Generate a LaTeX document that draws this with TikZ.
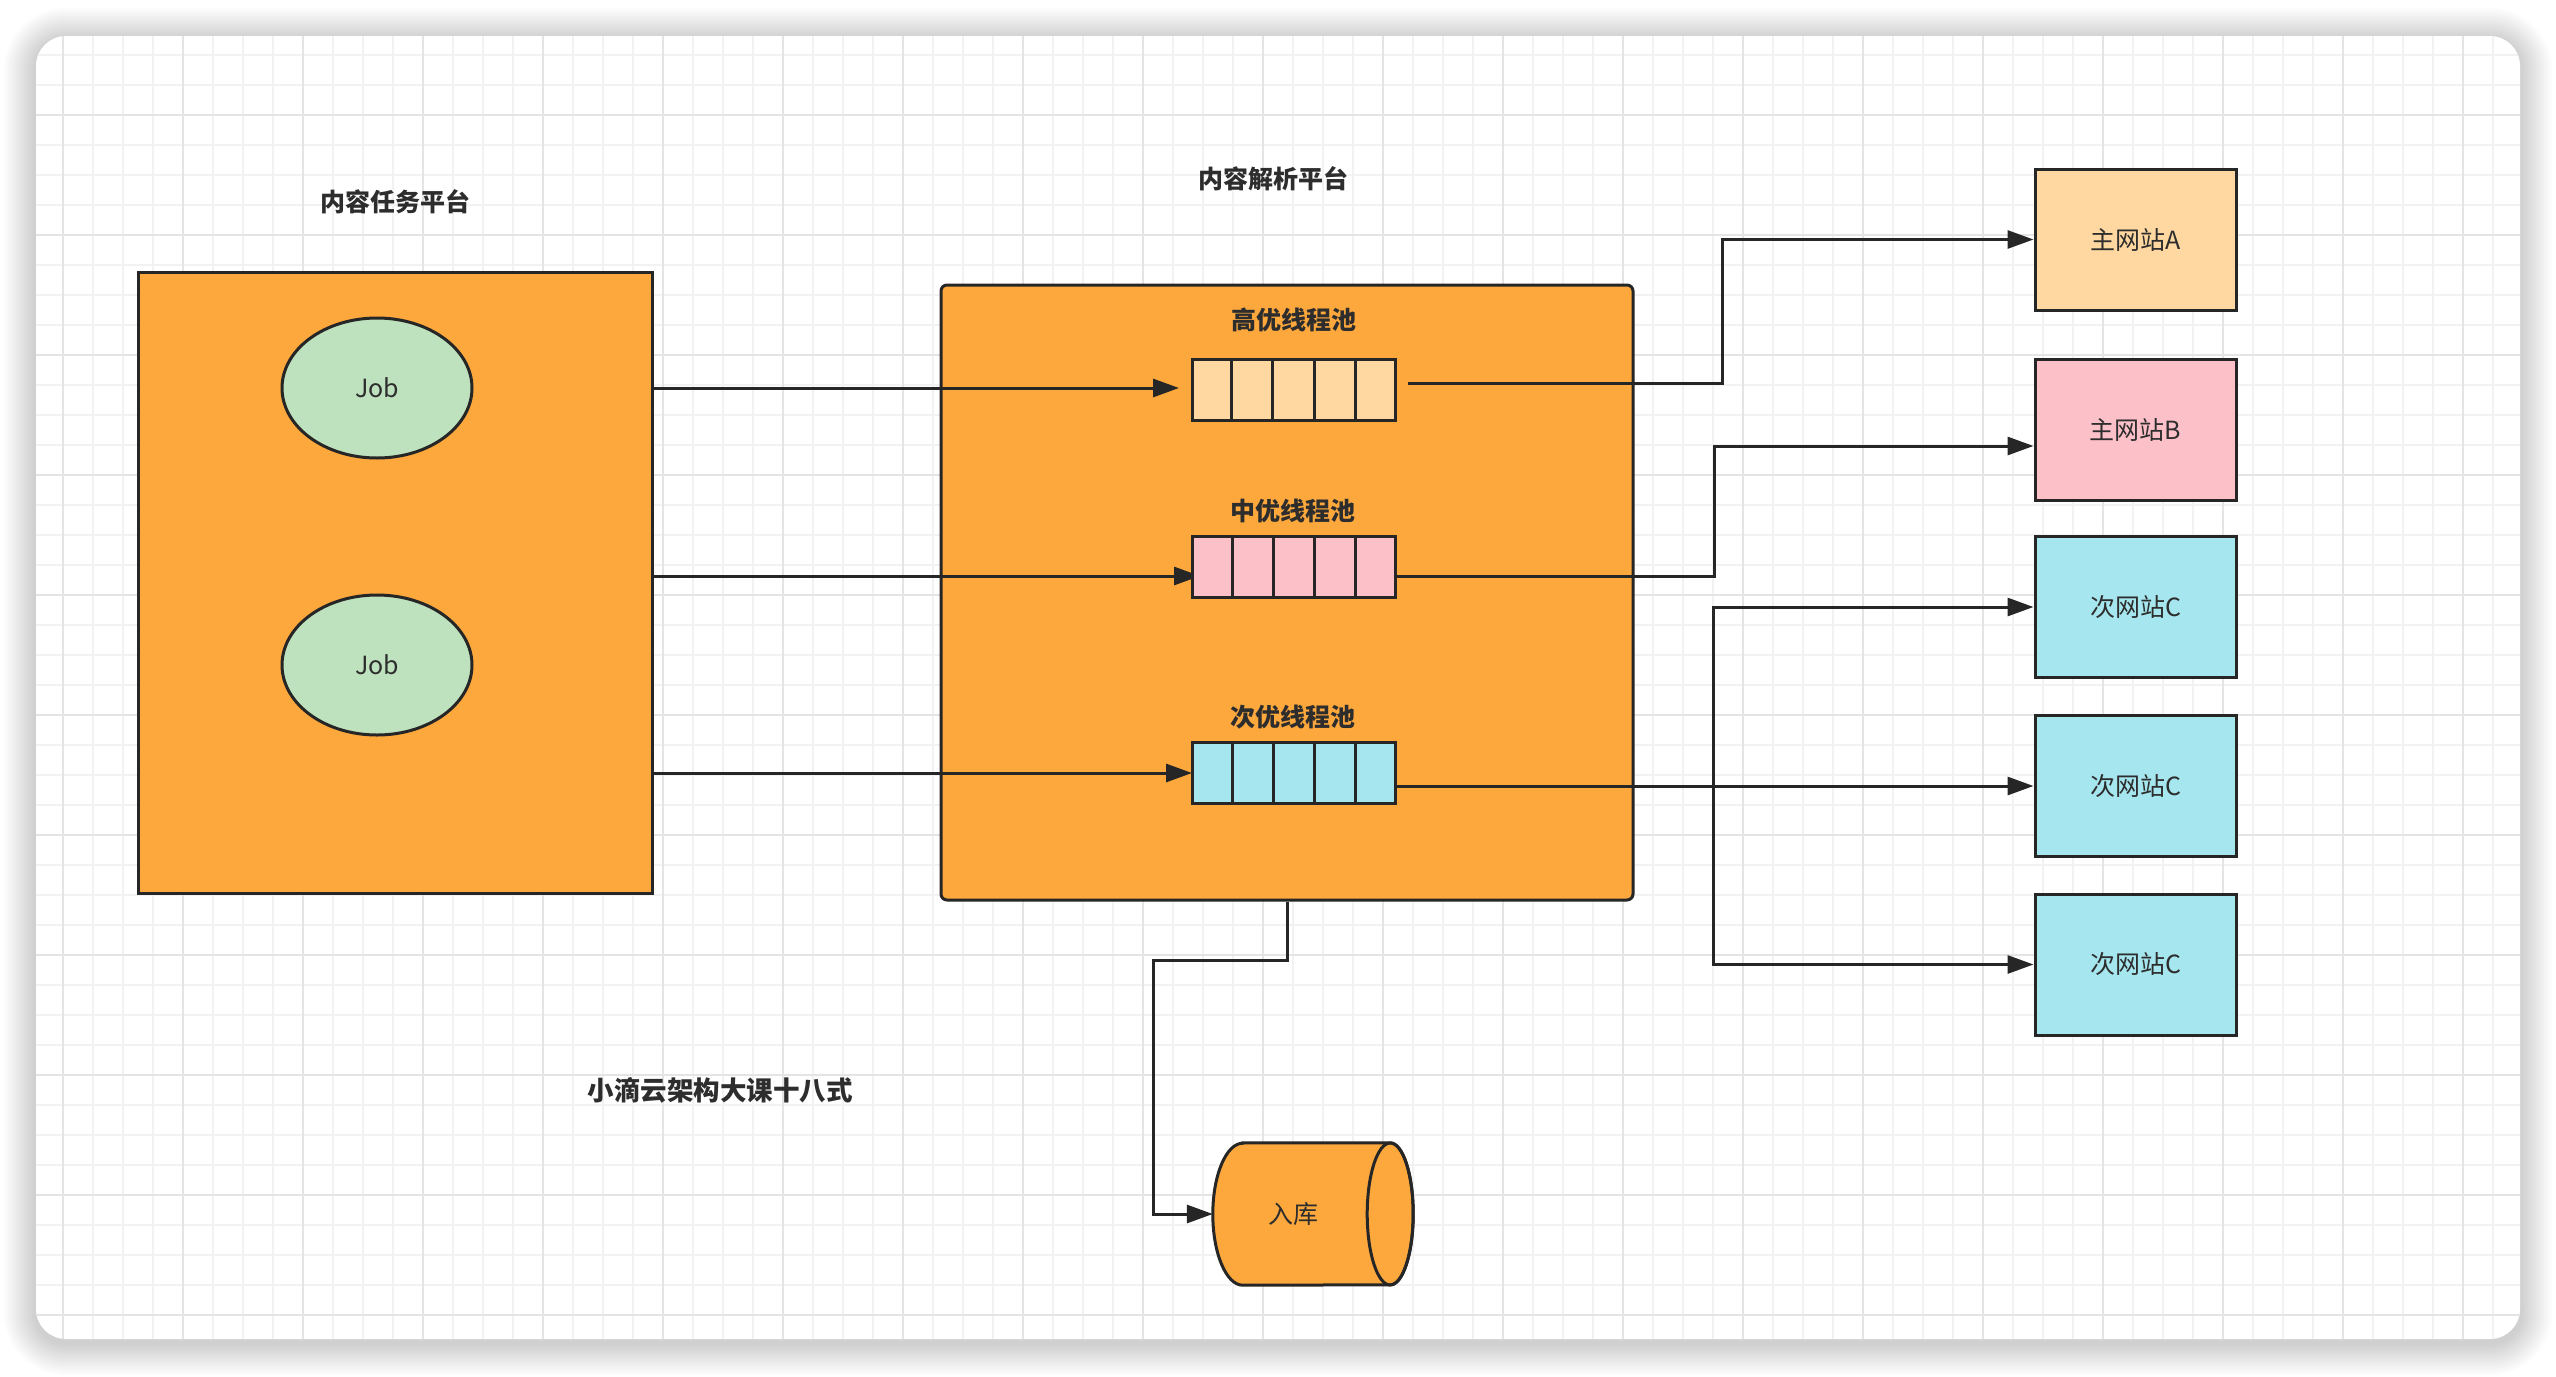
\documentclass[tikz,border=0pt]{standalone}
\usepackage{fontspec}
\setmainfont{Noto Sans CJK SC}
\usetikzlibrary{arrows.meta,calc,shapes.geometric}
\definecolor{orng}{RGB}{253,168,61}
\definecolor{jobgreen}{RGB}{190,225,190}
\definecolor{peach}{RGB}{254,216,160}
\definecolor{pinkc}{RGB}{252,192,200}
\definecolor{cyanc}{RGB}{166,230,238}
\definecolor{strokec}{RGB}{38,38,38}
\definecolor{textc}{RGB}{45,45,45}
\definecolor{gridmin}{RGB}{242,242,242}
\definecolor{gridmaj}{RGB}{228,228,228}
\pgfdeclarelayer{bgl}
\pgfdeclarelayer{edges}
\pgfsetlayers{bgl,edges,main}
\newcommand\myfs[1]{\fontsize{#1}{#1}\selectfont}
\begin{document}
\begin{tikzpicture}[x=1pt,y=-1pt,
  box/.style={draw=strokec, line width=3pt, inner sep=0pt, text=textc, font=\myfs{25pt}},
  queue/.style={box, minimum width=203pt, minimum height=61pt},
  site/.style={box, minimum width=201pt, minimum height=141pt},
  job/.style={box, ellipse, fill=jobgreen, minimum width=190pt, minimum height=140pt},
  title/.style={text=textc, font=\myfs{25pt}\bfseries, inner sep=0pt},
  conn/.style={draw=strokec, line width=3pt, -{Triangle[length=26pt,width=18pt]}},
  plainline/.style={draw=strokec, line width=3pt},
  gmin/.style={draw=gridmin, line width=1.6pt},
  gmaj/.style={draw=gridmaj, line width=2pt}
]
\useasboundingbox (0,0) rectangle (2556,1376);

\begin{pgfonlayer}{bgl}
  % card shadow
  \foreach \i in {1,...,16}{
    \pgfmathsetmacro\dd{2*\i}
    \pgfmathsetmacro\rr{30+2*\i}
    \fill[black, opacity=0.011, rounded corners=\rr pt, yshift=-4pt]
      (36-\dd,36-\dd) rectangle (2520+\dd,1339+\dd);
  }
  \fill[white, rounded corners=30pt] (36,36) rectangle (2520,1339);
  \begin{scope}
    \clip[rounded corners=30pt] (36,36) rectangle (2520,1339);
    \foreach \x in {63,93,...,2520} \draw[gmin] (\x,36) -- (\x,1339);
    \foreach \y in {55,85,...,1339} \draw[gmin] (36,\y) -- (2520,\y);
    \foreach \x in {63,183,...,2520} \draw[gmaj] (\x,36) -- (\x,1339);
    \foreach \y in {115,235,...,1339} \draw[gmaj] (36,\y) -- (2520,\y);
  \end{scope}
  \node[box, fill=orng, minimum width=514pt, minimum height=621pt] (lbox) at (395,582.5) {};
  \node[box, fill=orng, rounded corners=6pt, minimum width=692pt, minimum height=615pt] (mbox) at (1287,592.5) {};
\end{pgfonlayer}

% titles
\node[title] (tl) at (395,202) {内容任务平台};
\node[title] (tm) at (1273,179) {内容解析平台};
\node[title] (th1) at (1294,320) {高优线程池};
\node[title] (th2) at (1293,511) {中优线程池};
\node[title] (th3) at (1293,717) {次优线程池};
\node[title, font=\myfs{26.5pt}\bfseries] (tb) at (720,1090) {小滴云架构大课十八式};

% jobs
\node[job] (job1) at (377,388) {Job};
\node[job] (job2) at (377,665) {Job};

% queues
\node[queue, fill=peach] (q1) at (1293.5,389.5) {};
\node[queue, fill=pinkc] (q2) at (1294,567) {};
\node[queue, fill=cyanc] (q3) at (1294,773) {};
\foreach \q in {q1,q2,q3}{
  \foreach \k in {1,2,3,4}{
    \draw[plainline] ($(\q.north west)!\k/5!(\q.north east)$) -- ($(\q.south west)!\k/5!(\q.south east)$);
  }
}

% sites
\node[site, fill=peach] (siteA) at (2135.5,239.5) {主网站A};
\node[site, fill=pinkc] (siteB) at (2135.5,429.5) {主网站B};
\node[site, fill=cyanc] (siteC1) at (2135.5,607) {次网站C};
\node[site, fill=cyanc] (siteC2) at (2135.5,786) {次网站C};
\node[site, fill=cyanc] (siteC3) at (2135.5,964.5) {次网站C};

% database cylinder
\node[minimum width=200pt, minimum height=142pt, inner sep=0pt] (db) at (1313,1214) {};
\filldraw[fill=orng, draw=strokec, line width=3pt]
  ([xshift=30pt]db.north west) -- ([xshift=-23pt]db.north east)
  arc[start angle=90, end angle=-90, x radius=23pt, y radius=71pt]
  -- ([xshift=30pt]db.south west)
  arc[start angle=270, end angle=90, x radius=30pt, y radius=71pt] -- cycle;
\draw[draw=strokec, line width=3pt] ([xshift=-23pt]db.east) ellipse [x radius=23pt, y radius=71pt];
\node[text=textc, font=\myfs{25pt}, inner sep=0pt] (dbl) at (1293,1214) {入库};

% connectors
\coordinate (q1in) at (1179,388);
\coordinate (q2in) at (1200,576);
\coordinate (q3in) at (1192,773);
\coordinate (q1out) at (1408,383);
\coordinate (br) at (1713,786);
\begin{pgfonlayer}{edges}
  \draw[conn] (lbox.east |- q1in) -- (q1in);
  \draw[conn] (lbox.east |- q2in) -- (q2in);
  \draw[conn] (lbox.east |- q3in) -- (q3in);
  \draw[conn] (q1out) -- ++(314,0) |- (siteA.west);
  \draw[conn] (q2.east |- q2in) -- ++(317,0) |- ([yshift=-16.5pt]siteB.west);
  \draw[conn] (q3.east |- siteC2.west) -- (siteC2.west);
  \draw[conn] (br) |- (siteC1.west);
  \draw[conn] (br) |- (siteC3.west);
  \draw[conn] (mbox.south) -- ++(0,59) -- ++(-134,0) |- (db.west);
\end{pgfonlayer}
\end{tikzpicture}
\end{document}
